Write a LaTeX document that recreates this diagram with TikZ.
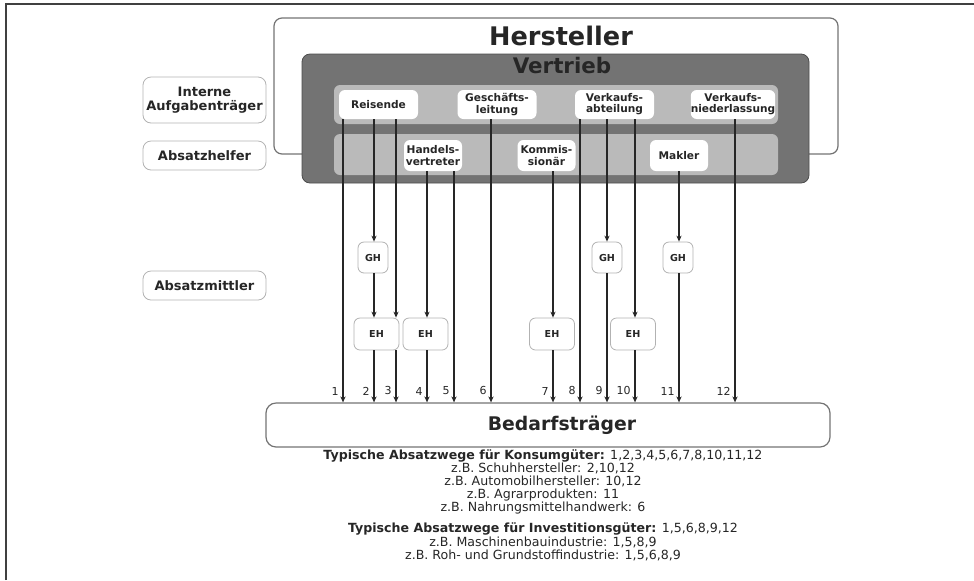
\documentclass[tikz,border=0pt]{standalone}
\usepackage{fontspec}
\setmainfont{DejaVu Sans}
\usetikzlibrary{arrows.meta}

\tikzset{
	stelle/.style={fill=white, rounded corners=3pt, inner sep=0pt, minimum width=39.5pt, minimum height=14.5pt, align=center, text=black!85, font=\fontsize{5.3}{5.6}\selectfont\bfseries},
	helfer/.style={stelle, minimum width=29pt, minimum height=15.5pt},
	ebene/.style={draw=black!30, rounded corners=4pt, inner sep=0pt, minimum width=61.5pt, minimum height=14.5pt, align=center, text=black!85, font=\fontsize{6.5}{6.8}\selectfont\bfseries},
	handel/.style={draw=black!30, fill=white, rounded corners=3pt, inner sep=0pt, minimum width=15pt, minimum height=15.5pt, text=black!85, font=\fontsize{4.8}{5}\selectfont\bfseries},
	weg/.style={line width=0.6pt, draw=black!85, -{Stealth[length=3pt,width=2.6pt]}},
	nummer/.style={anchor=south east, inner sep=1pt, text=black!85, font=\fontsize{5.5}{6}\selectfont}
}

\begin{document}
\begin{tikzpicture}[x=0.5pt, y=-0.5pt]
	\useasboundingbox (0,0) rectangle (974,580);
	\draw[line width=0.8pt, black!75] (6,580) -- (6,4) -- (974,4);

	\node[draw=black!55, line width=0.6pt, rounded corners=4pt, minimum width=282pt, minimum height=68pt] (hersteller) at (556,86) {};
	\node[font=\fontsize{12.8}{14}\selectfont\bfseries, text=black!85] (herstellername) at (561,36) {Hersteller};
	\node[draw=black!70, fill=black!55, rounded corners=4pt, minimum width=253.5pt, minimum height=64.5pt] (vertrieb) at (555.5,118.5) {};
	\node[font=\fontsize{10.7}{12}\selectfont\bfseries, text=black!85] (vertriebname) at (562,66) {Vertrieb};
	\node[fill=black!27, rounded corners=3pt, minimum width=222pt, minimum height=19.5pt] (internzeile) at (556,104.5) {};
	\node[fill=black!27, rounded corners=3pt, minimum width=222pt, minimum height=20.5pt] (helferzeile) at (556,154.5) {};

	\node[stelle] (reisende) at (378.5,104.5) {Reisende};
	\node[stelle] (geschaeftsleitung) at (497,104.5) {Geschäfts-\\leitung};
	\node[stelle] (verkaufsabteilung) at (614.5,104.5) {Verkaufs-\\abteilung};
	\node[stelle] (verkaufsniederlassung) at (733,104.5) {Verkaufs-\\niederlassung};
	\node[helfer] (handelsvertreter) at (433,155.5) {Handels-\\vertreter};
	\node[helfer] (kommissionaer) at (546.5,155.5) {Kommis-\\sionär};
	\node[helfer] (makler) at (679,155.5) {Makler};

	\node[ebene, minimum height=23pt] (interne) at (204.5,100) {Interne\\Aufgabenträger};
	\node[ebene] (absatzhelfer) at (204.5,155.5) {Absatzhelfer};
	\node[ebene] (absatzmittler) at (204.5,285.5) {Absatzmittler};

	\node[handel] (gh1) at (373,257.5) {GH};
	\node[handel] (gh2) at (607,257.5) {GH};
	\node[handel] (gh3) at (678,257.5) {GH};
	\node[handel, minimum width=22.5pt, minimum height=16pt] (eh1) at (376.5,334) {EH};
	\node[handel, minimum width=22.5pt, minimum height=16pt] (eh2) at (425.5,334) {EH};
	\node[handel, minimum width=22.5pt, minimum height=16pt] (eh3) at (552,334) {EH};
	\node[handel, minimum width=22.5pt, minimum height=16pt] (eh4) at (633,334) {EH};

	\node[draw=black!55, line width=0.6pt, rounded corners=5pt, minimum width=282pt, minimum height=22pt, text=black!85, font=\fontsize{9.4}{11}\selectfont\bfseries] (bedarf) at (548,425) {\hspace*{14pt}Bedarfsträger};

	\foreach \n/\x in {1/343, 2/374, 3/396, 4/427, 5/454, 6/491, 7/553, 8/580, 9/607, 10/635, 11/679, 12/735}
		\coordinate (w\n) at (\x,0);

	\draw[weg] (w1 |- reisende.south) -- (w1 |- bedarf.north);
	\draw[weg] (w2 |- reisende.south) -- (w2 |- gh1.north);
	\draw[weg] (w2 |- gh1.south) -- (w2 |- eh1.north);
	\draw[weg] (w2 |- eh1.south) -- (w2 |- bedarf.north);
	\draw[weg] (w3 |- reisende.south) -- (w3 |- eh1.north);
	\draw[weg] (w3 |- eh1.south) -- (w3 |- bedarf.north);
	\draw[weg] (w4 |- handelsvertreter.south) -- (w4 |- eh2.north);
	\draw[weg] (w4 |- eh2.south) -- (w4 |- bedarf.north);
	\draw[weg] (w5 |- handelsvertreter.south) -- (w5 |- bedarf.north);
	\draw[weg] (w6 |- geschaeftsleitung.south) -- (w6 |- bedarf.north);
	\draw[weg] (w7 |- kommissionaer.south) -- (w7 |- eh3.north);
	\draw[weg] (w7 |- eh3.south) -- (w7 |- bedarf.north);
	\draw[weg] (w8 |- verkaufsabteilung.south) -- (w8 |- bedarf.north);
	\draw[weg] (w9 |- verkaufsabteilung.south) -- (w9 |- gh2.north);
	\draw[weg] (w9 |- gh2.south) -- (w9 |- bedarf.north);
	\draw[weg] (w10 |- verkaufsabteilung.south) -- (w10 |- eh4.north);
	\draw[weg] (w10 |- eh4.south) -- (w10 |- bedarf.north);
	\draw[weg] (w11 |- makler.south) -- (w11 |- gh3.north);
	\draw[weg] (w11 |- gh3.south) -- (w11 |- bedarf.north);
	\draw[weg] (w12 |- verkaufsniederlassung.south) -- (w12 |- bedarf.north);

	\foreach \n in {1,...,12}
		\node[nummer, xshift=-1pt, yshift=2.5pt] (nr\n) at (w\n |- bedarf.north) {\n};

	\node[align=center, text=black!85, font=\fontsize{6.3}{6.6}\selectfont] (konsum) at (543,482) {\textbf{Typische Absatzwege für Konsumgüter:} 1,2,3,4,5,6,7,8,10,11,12\\z.B. Schuhhersteller: 2,10,12\\z.B. Automobilhersteller: 10,12\\z.B. Agrarprodukten: 11\\z.B. Nahrungsmittelhandwerk: 6};
	\node[align=center, text=black!85, font=\fontsize{6.3}{6.6}\selectfont] (investition) at (543,542) {\textbf{Typische Absatzwege für Investitionsgüter:} 1,5,6,8,9,12\\z.B. Maschinenbauindustrie: 1,5,8,9\\z.B. Roh- und Grundstoffindustrie: 1,5,6,8,9};
\end{tikzpicture}
\end{document}
